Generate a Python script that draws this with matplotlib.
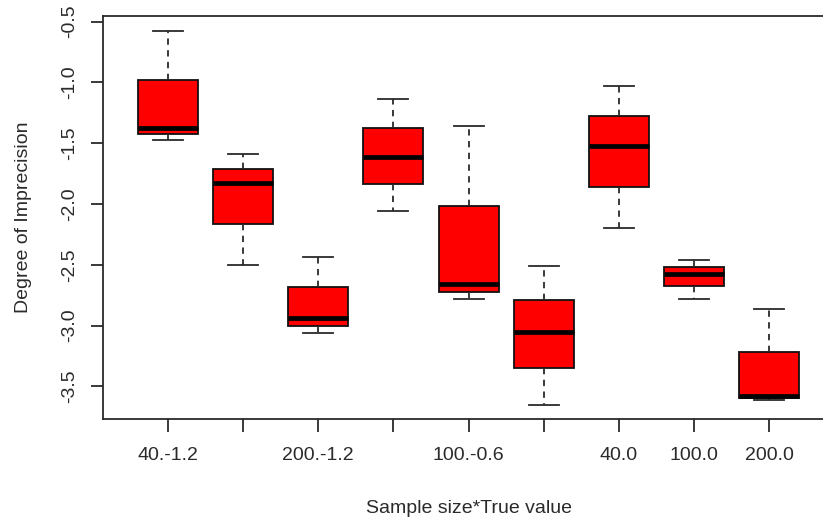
import matplotlib
matplotlib.use("Agg")
import matplotlib.pyplot as plt

plt.rcParams['font.family'] = ['Liberation Sans', 'DejaVu Sans']

groups = ["40.-1.2", "100.-1.2", "200.-1.2", "40.-0.6", "100.-0.6",
          "200.-0.6", "40.0", "100.0", "200.0"]
shown_labels = ["40.-1.2", "", "200.-1.2", "", "100.-0.6", "", "40.0", "100.0", "200.0"]

whisk_hi = [-0.577, -1.591, -2.433, -1.133, -1.360, -2.512, -1.031, -2.462, -2.863]
q3       = [-0.979, -1.711, -2.682, -1.372, -2.013, -2.789, -1.278, -2.520, -3.216]
medians  = [-1.372, -1.826, -2.939, -1.613, -2.660, -3.054, -1.520, -2.577, -3.578]
q1       = [-1.426, -2.164, -3.000, -1.832, -2.720, -3.350, -1.859, -2.676, -3.592]
whisk_lo = [-1.475, -2.503, -3.058, -2.054, -2.778, -3.650, -2.199, -2.778, -3.608]

y_ticks = [-0.5, -1.0, -1.5, -2.0, -2.5, -3.0, -3.5]

stats = []
for name, wh, a, m, b, wl in zip(groups, whisk_hi, q3, medians, q1, whisk_lo):
    stats.append(dict(label=name, whishi=wh, q3=a, med=m, q1=b, whislo=wl, fliers=[]))

ink = '#2a2a2a'
fig = plt.figure(figsize=(8.23, 5.21), dpi=100)
ax = fig.add_axes([0.1255, 0.1952, 0.8877, 0.7747])

positions = list(range(1, len(groups) + 1))
lw = 1.3
ax.bxp(stats, positions=positions, widths=0.8, capwidths=0.4, patch_artist=True,
       showfliers=False,
       boxprops=dict(facecolor='#ff0000', edgecolor='#111111', linewidth=lw),
       medianprops=dict(color='#000000', linewidth=3.4, solid_capstyle='butt'),
       whiskerprops=dict(color=ink, linewidth=lw, linestyle=(0, (3.5, 3))),
       capprops=dict(color=ink, linewidth=lw))

ax.set_xlim(0.14, 9.86)
ax.set_ylim(-3.77, -0.451)

ax.set_xticks(positions)
ax.set_xticklabels(shown_labels, fontsize=14, color=ink)
ax.set_yticks(y_ticks)
ax.set_yticklabels([f"{v:.1f}" for v in y_ticks], fontsize=14, rotation=90,
                   va='center', color=ink)

ax.tick_params(axis='x', length=9, width=lw, pad=11, color=ink)
ax.tick_params(axis='y', length=9, width=lw, pad=9, color=ink)
for s in ax.spines.values():
    s.set_linewidth(lw)
    s.set_color(ink)

ax.set_xlabel("Sample size*True value", fontsize=14, labelpad=26, color=ink)
ax.set_ylabel("Degree of Imprecision", fontsize=14, labelpad=21, color=ink)

fig.savefig("out.png", dpi=100)
